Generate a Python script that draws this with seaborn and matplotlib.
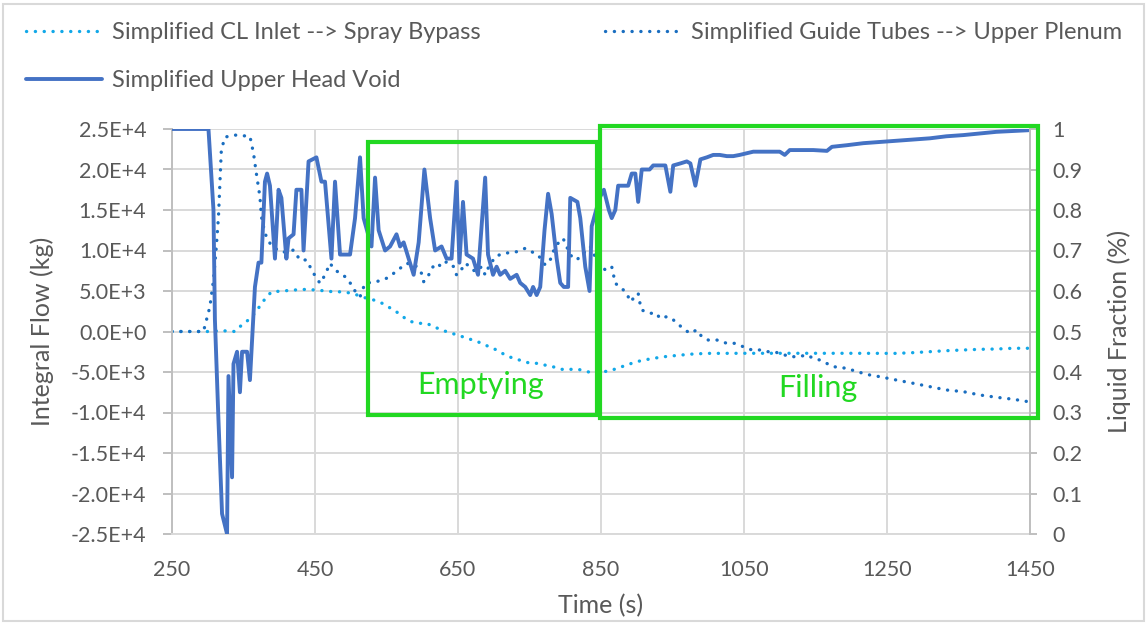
import matplotlib
matplotlib.use("Agg")
import matplotlib.pyplot as plt
import seaborn as sns
import pandas as pd
from matplotlib.patches import Rectangle
from matplotlib.lines import Line2D

# ---------------- data ----------------
cl_t = [250, 300, 320, 338, 345, 354, 368, 375, 389, 405, 420, 437, 452, 476, 490, 501,
        513, 522, 532, 544, 556, 567, 576, 585, 595, 606, 618, 630, 641, 652, 662, 673,
        683, 694, 704, 716, 727, 739, 751, 762, 774, 785, 795, 806, 818, 829, 839, 851,
        863, 874, 886, 897, 906, 916, 928, 940, 951, 963, 975, 986, 998, 1010, 1050, 1100,
        1150, 1200, 1263, 1287, 1310, 1333, 1357, 1380, 1403, 1426, 1448]
cl_kg = [0, 0, 100, 0, 600, 1200, 2440, 3480, 4900, 5000, 5120, 5200, 5120, 4900, 4900, 4710,
         4400, 4100, 3890, 3480, 2860, 2250, 1630, 1210, 1010, 1010, 520, 100, -220, -500, -840, -1100,
         -1460, -1900, -2280, -2900, -3300, -3600, -3930, -3930, -4200, -4400, -4670, -4670, -4670, -4900, -5160, -5000,
         -4840, -4500, -4140, -3800, -3600, -3430, -3250, -3100, -3000, -2900, -2800, -2750, -2700, -2700, -2690, -2690,
         -2690, -2690, -2700, -2610, -2490, -2370, -2280, -2200, -2160, -2070, -2070]

gt_t = [250, 294, 303, 308, 312, 315, 317, 319, 324, 338, 359, 364, 368, 373, 375, 380,
        387, 394, 401, 410, 420, 429, 438, 448, 457, 464, 471, 478, 485, 492, 500, 506,
        513, 520, 536, 550, 560, 569, 578, 590, 599, 602, 608, 613, 620, 627, 634, 644,
        648, 653, 660, 667, 674, 683, 688, 692, 702, 713, 723, 732, 744, 753, 762, 772,
        779, 783, 790, 797, 807, 816, 823, 835, 844, 856, 865, 870, 879, 886, 891, 902,
        904, 907, 918, 928, 932, 942, 949, 956, 965, 974, 984, 991, 1000, 1012, 1026, 1037,
        1049, 1061, 1072, 1082, 1091, 1100, 1114, 1126, 1138, 1147, 1156, 1175, 1194, 1208, 1226, 1240,
        1263, 1287, 1310, 1333, 1357, 1380, 1403, 1427, 1448]
gt_kg = [0, 0, 3060, 6360, 10470, 14170, 18300, 22400, 24000, 24250, 24100, 22000, 19500, 16600, 14200, 12100,
         10900, 10300, 9850, 9800, 10060, 8830, 8830, 7180, 5950, 6975, 8420, 7590, 7200, 6770, 5900, 5000,
         4300, 5950, 6150, 6570, 7180, 7800, 8420, 8210, 7180, 6150, 6770, 7800, 8420, 8000, 8620, 8000,
         6975, 7380, 8420, 8000, 7380, 8000, 6975, 7800, 9230, 9650, 9730, 9850, 10270, 9850, 9440, 8210,
         8830, 9850, 10890, 11500, 9440, 8830, 9440, 10470, 8830, 7590, 8000, 5950, 5330, 4720, 3680, 4720,
         3680, 2650, 2250, 2250, 1630, 1830, 1630, 1010, 400, -220, 190, -640, -1050, -1050, -1460, -1460,
         -1880, -2280, -2280, -2490, -2490, -2690, -3110, -3110, -2900, -3310, -3520, -4340, -4550, -4960, -5370, -5580,
         -5990, -6400, -6810, -7220, -7430, -7840, -8120, -8370, -8670]

uh_t = [250, 301, 308, 310, 315, 320, 327, 329, 334, 336, 341, 345, 348, 355, 359, 366,
        371, 375, 380, 383, 387, 394, 399, 403, 410, 413, 420, 424, 431, 434, 441, 452,
        459, 464, 473, 478, 485, 499, 506, 513, 518, 529, 534, 539, 548, 555, 564, 569,
        574, 581, 588, 595, 603, 611, 618, 627, 634, 641, 648, 652, 657, 662, 671, 678,
        688, 692, 699, 704, 709, 716, 723, 732, 737, 744, 751, 755, 760, 765, 771, 776,
        781, 788, 793, 798, 804, 807, 817, 821, 828, 834, 837, 848, 854, 861, 865, 870,
        874, 888, 893, 898, 902, 907, 914, 918, 923, 932, 940, 947, 951, 961, 970, 975,
        982, 989, 998, 1007, 1016, 1026, 1035, 1044, 1063, 1082, 1100, 1107, 1114, 1147, 1166, 1173,
        1194, 1217, 1240, 1264, 1287, 1310, 1333, 1357, 1380, 1403, 1426, 1448]
uh_frac = [1.0, 1.0, 0.80, 0.53, 0.28, 0.05, 0.0, 0.39, 0.14, 0.42, 0.45, 0.35, 0.45, 0.45, 0.38, 0.61,
           0.67, 0.67, 0.87, 0.89, 0.86, 0.68, 0.85, 0.83, 0.68, 0.73, 0.74, 0.85, 0.85, 0.70, 0.92, 0.93,
           0.87, 0.87, 0.68, 0.87, 0.69, 0.69, 0.78, 0.93, 0.78, 0.71, 0.88, 0.75, 0.70, 0.71, 0.74, 0.71,
           0.72, 0.68, 0.64, 0.72, 0.90, 0.78, 0.70, 0.71, 0.68, 0.68, 0.87, 0.67, 0.82, 0.69, 0.68, 0.64,
           0.88, 0.69, 0.64, 0.66, 0.64, 0.65, 0.63, 0.64, 0.62, 0.61, 0.59, 0.61, 0.59, 0.61, 0.75, 0.84,
           0.79, 0.68, 0.62, 0.61, 0.61, 0.83, 0.82, 0.78, 0.66, 0.60, 0.76, 0.83, 0.85, 0.80, 0.78, 0.80,
           0.86, 0.86, 0.89, 0.89, 0.82, 0.90, 0.90, 0.90, 0.91, 0.91, 0.91, 0.845, 0.91, 0.915, 0.92, 0.915,
           0.86, 0.925, 0.93, 0.936, 0.936, 0.933, 0.933, 0.936, 0.944, 0.944, 0.944, 0.936, 0.948, 0.948, 0.946, 0.956,
           0.96, 0.965, 0.968, 0.971, 0.974, 0.977, 0.982, 0.985, 0.989, 0.993, 0.995, 0.997]

series_names = ["Simplified CL Inlet --> Spray Bypass",
                "Simplified Guide Tubes --> Upper Plenum",
                "Simplified Upper Head Void"]

x_ticks = [250, 450, 650, 850, 1050, 1250, 1450]
y_ticks = [-25000, -20000, -15000, -10000, -5000, 0, 5000, 10000, 15000, 20000, 25000]
y_tick_labels = ["-2.5E+4", "-2.0E+4", "-1.5E+4", "-1.0E+4", "-5.0E+3", "0.0E+0",
                 "5.0E+3", "1.0E+4", "1.5E+4", "2.0E+4", "2.5E+4"]
y2_ticks = [0, 0.1, 0.2, 0.3, 0.4, 0.5, 0.6, 0.7, 0.8, 0.9, 1.0]
y2_tick_labels = ["0", "0.1", "0.2", "0.3", "0.4", "0.5", "0.6", "0.7", "0.8", "0.9", "1"]

# annotation boxes (time range, flow range)
emptying_box = [524, 844, -10300, 23400]
filling_box = [849, 1461, -10670, 25370]

# ---------------- style ----------------
sns.set_theme(style="white")
plt.rcParams["font.family"] = ["Lato", "DejaVu Sans"]
TXT = "#595959"
GRID = "#D9D9D9"
AX = "#BFBFBF"
C_CL = "#12A8E8"
C_GT = "#1A6EC0"
C_UH = "#4472C4"
GREEN = "#22D822"
TICK_FS = 15.5

fig = plt.figure(figsize=(11.47, 6.23), dpi=100)
ax = fig.add_axes([172 / 1147, 1 - 534 / 623, (1030 - 172) / 1147, (534 - 129) / 623])
ax2 = ax.twinx()

df_cl = pd.DataFrame({"t": cl_t, "v": cl_kg})
df_gt = pd.DataFrame({"t": gt_t, "v": gt_kg})
df_uh = pd.DataFrame({"t": uh_t, "v": uh_frac})

dot = (0, (0.05, 2.6))
sns.lineplot(data=df_cl, x="t", y="v", ax=ax, color=C_CL, lw=2.4, linestyle=dot,
             dash_capstyle="round", estimator=None, sort=False)
sns.lineplot(data=df_gt, x="t", y="v", ax=ax, color=C_GT, lw=2.4, linestyle=dot,
             dash_capstyle="round", estimator=None, sort=False)
sns.lineplot(data=df_uh, x="t", y="v", ax=ax2, color=C_UH, lw=2.8, estimator=None,
             sort=False)

ax.set_xlim(x_ticks[0], x_ticks[-1])
ax.set_ylim(y_ticks[0], y_ticks[-1])
ax2.set_ylim(y2_ticks[0], y2_ticks[-1])
ax.set_xticks(x_ticks)
ax.set_xticklabels([str(v) for v in x_ticks])
ax.set_yticks(y_ticks)
ax.set_yticklabels(y_tick_labels)
ax2.set_yticks(y2_ticks)
ax2.set_yticklabels(y2_tick_labels)

ax.grid(True, color=GRID, lw=1.4)
ax2.grid(False)
ax.set_axisbelow(True)

for a in (ax, ax2):
    for s in a.spines.values():
        s.set_visible(False)
ax.spines["left"].set_visible(True)
ax.spines["left"].set_color(AX)
ax.spines["left"].set_linewidth(1.4)
ax.spines["bottom"].set_visible(True)
ax.spines["bottom"].set_color(GRID)
ax.spines["bottom"].set_linewidth(1.4)
ax2.spines["right"].set_visible(True)
ax2.spines["right"].set_color(AX)
ax2.spines["right"].set_linewidth(1.4)

ax.tick_params(axis="y", which="major", left=True, length=6.5, width=1.4, color=AX,
               pad=12, labelsize=TICK_FS, labelcolor=TXT)
ax.tick_params(axis="x", which="major", bottom=False, length=0, pad=19,
               labelsize=TICK_FS, labelcolor=TXT)
ax2.tick_params(axis="y", which="major", right=True, length=5, width=1.4, color=AX,
                pad=11, labelsize=TICK_FS, labelcolor=TXT)

ax.set_xlabel("Time (s)", fontsize=18, color=TXT, labelpad=10)
ax.set_ylabel("Integral Flow (kg)", fontsize=18, color=TXT, labelpad=12)
ax2.set_ylabel("Liquid Fraction (%)", fontsize=18, color=TXT, labelpad=18)

# green annotation boxes
for (x0, x1, y0, y1) in (emptying_box, filling_box):
    r = Rectangle((x0, y0), x1 - x0, y1 - y0, transform=ax.transData, fill=False,
                  edgecolor=GREEN, lw=3.0, clip_on=False, zorder=10)
    ax2.add_patch(r)
ax2.text(682, -6600, "Emptying", transform=ax.transData,
         color=GREEN, fontsize=22, ha="center", va="center", zorder=11)
ax2.text(1153, -6970, "Filling", transform=ax.transData,
         color=GREEN, fontsize=22, ha="center", va="center", zorder=11)

# legend
handles = [Line2D([], [], color=C_CL, lw=2.4, linestyle=dot, dash_capstyle="round"),
           Line2D([], [], color=C_GT, lw=2.4, linestyle=dot, dash_capstyle="round"),
           Line2D([], [], color=C_UH, lw=2.8)]
order = [0, 2, 1]
leg = fig.legend([handles[i] for i in order], [series_names[i] for i in order],
                 loc="upper left", bbox_to_anchor=(5 / 1147, 1 - 1 / 623), ncol=2,
                 frameon=False, fontsize=17, handlelength=3.2, handletextpad=0.42,
                 columnspacing=5.3, labelspacing=1.15, labelcolor=TXT)

# chart border
fig.patches.append(Rectangle((3 / 1147, 2 / 623), 1 - 6 / 1147, 1 - 6 / 623,
                             transform=fig.transFigure, fill=False,
                             edgecolor="#D9D9D9", lw=1.5))

fig.savefig("out.png", dpi=100)
